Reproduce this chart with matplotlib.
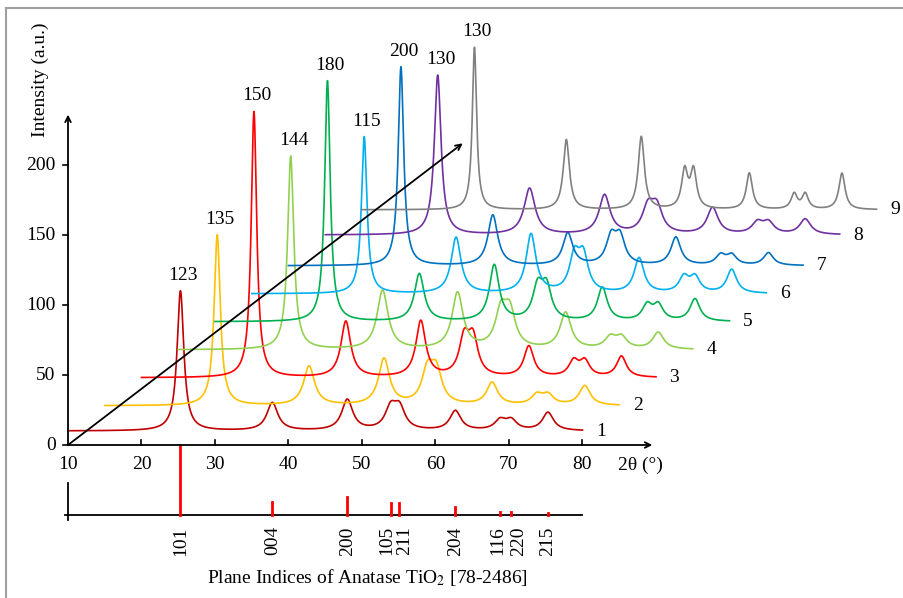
import matplotlib
matplotlib.use('Agg')
import matplotlib.pyplot as plt
import numpy as np
from matplotlib.lines import Line2D

plt.rcParams['font.family'] = ['Liberation Serif', 'DejaVu Serif']

# anatase reflections (2theta, degrees) and stick pattern
planes = ['101', '004', '200', '105', '211', '204', '116', '220', '215']
peak_pos = [25.3, 37.8, 48.0, 53.9, 55.1, 62.7, 68.8, 70.3, 75.3]
ref_int = [100, 19, 26, 17, 17, 12, 4, 4, 3]

# samples 1..9: offset in 2theta, baseline, peak widths, peak heights above baseline
samples = ['1', '2', '3', '4', '5', '6', '7', '8', '9']
shift = [0, 5, 10, 15, 20, 25, 30, 35, 40]
baseline = [10, 28, 48, 68, 88, 108, 128, 150, 168]
fwhm_main = [1.1, 1.0, 0.9, 1.0, 0.9, 0.9, 0.9, 1.1, 0.7]
fwhm_minor = [1.8, 1.8, 1.6, 1.8, 1.6, 1.6, 1.6, 1.8, 1.0]
heights = [
    [100, 20, 22, 15, 15, 14, 7, 7, 13],
    [122, 28, 33, 23, 23, 16, 7, 7, 14],
    [190, 40, 40, 26, 26, 22, 11, 11, 15],
    [138, 42, 40, 25, 25, 26, 8, 8, 12],
    [172, 34, 40, 23, 23, 24, 11, 11, 16],
    [112, 40, 42, 25, 25, 25, 11, 11, 17],
    [142, 36, 23, 19, 19, 20, 7, 7, 9],
    [114, 33, 28, 18, 18, 19, 8, 8, 11],
    [116, 50, 52, 27, 27, 26, 11, 11, 26],
]
peak_labels = ['123', '135', '150', '144', '180', '115', '200', '130', '130']
colors = ['#C00000', '#FFC000', '#FF0000', '#92D050', '#00B050',
          '#00B0F0', '#0070C0', '#7030A0', '#808080']

fig = plt.figure(figsize=(9.04, 5.98), dpi=100)
ax = fig.add_axes([0, 0, 1, 1])
# 7.35 px per degree, 1.4 px per intensity unit, origin (10, 0) at pixel (68, 445)
ax.set_xlim(10 - 68 / 7.35, 10 + 836 / 7.35)
ax.set_ylim(-153 / 1.4, 445 / 1.4)
ax.axis('off')

for i in range(len(samples)):
    x = np.arange(10, 80.001, 0.02) + shift[i]
    y = np.full_like(x, baseline[i], dtype=float)
    for k, (p, h) in enumerate(zip(peak_pos, heights[i])):
        w = fwhm_main[i] if k == 0 else fwhm_minor[i]
        y += h / (1 + (2 * (x - p - shift[i]) / w) ** 2)
    ax.plot(x, y, color=colors[i], lw=1.2, zorder=3)
    top = y.max()
    xp = x[np.argmax(y)]
    ax.annotate(peak_labels[i], (xp, top), xytext=(2, 5), textcoords='offset points',
                ha='center', va='bottom', fontsize=14)
    ax.text(x[-1] + 2.5, baseline[i], samples[i], ha='center', va='center', fontsize=14)

# main axes with arrows
arrow = dict(arrowstyle='->', color='black', lw=1.3, shrinkA=0, shrinkB=0)
ax.annotate('', xy=(89.5, 0), xytext=(10, 0), arrowprops=arrow, zorder=4)
ax.annotate('', xy=(10, 236), xytext=(10, 0), arrowprops=arrow, zorder=4)
ax.annotate('', xy=(63.7, 215.5), xytext=(10, 0), arrowprops=arrow, zorder=5)

for t in range(20, 81, 10):
    ax.plot([t, t], [0, 3.6], color='black', lw=1.2)
for t in range(10, 81, 10):
    ax.text(t, -8, str(t), ha='center', va='top', fontsize=14)
ax.text(84.8, -8, '2θ (°)', ha='left', va='top', fontsize=14)
for v in range(0, 201, 50):
    ax.plot([9.3, 10], [v, v], color='black', lw=1.2)
    ax.text(8.3, v, str(v), ha='right', va='center', fontsize=14)
ax.text(10 - 28 / 7.35, (445 - 80) / 1.4, 'Intensity (a.u.)', rotation=90,
        ha='center', va='center', fontsize=14)

# reference stick pattern
ax.plot([10, 10], [-27, -53.5], color='black', lw=1.3)
ax.plot([9.6, 80], [-50, -50], color='black', lw=1.3)
for p, r in zip(peak_pos, ref_int):
    ax.plot([p, p], [-50, -50 + r / 2], color='#FF0000', lw=2, zorder=2)
label_nudge = {'105': -0.5, '211': 0.7, '116': -0.4, '220': 1.0}
for name, p in zip(planes, peak_pos):
    ax.text(p + label_nudge.get(name, 0), -58, name, rotation=90,
            ha='center', va='top', fontsize=14)
ax.text(10 + (367 - 68) / 7.35, -(578 - 445) / 1.4,
        'Plane Indices of Anatase TiO$_2$ [78-2486]', ha='center', va='center',
        fontsize=14, math_fontfamily='stix')

# picture frame
fig.add_artist(Line2D([6 / 904, 6 / 904], [0, 1 - 8 / 598], color='#A0A0A0', lw=1.5))
fig.add_artist(Line2D([6 / 904, 1], [1 - 8 / 598, 1 - 8 / 598], color='#A0A0A0', lw=1.5))

fig.savefig('out.png', dpi=100)
